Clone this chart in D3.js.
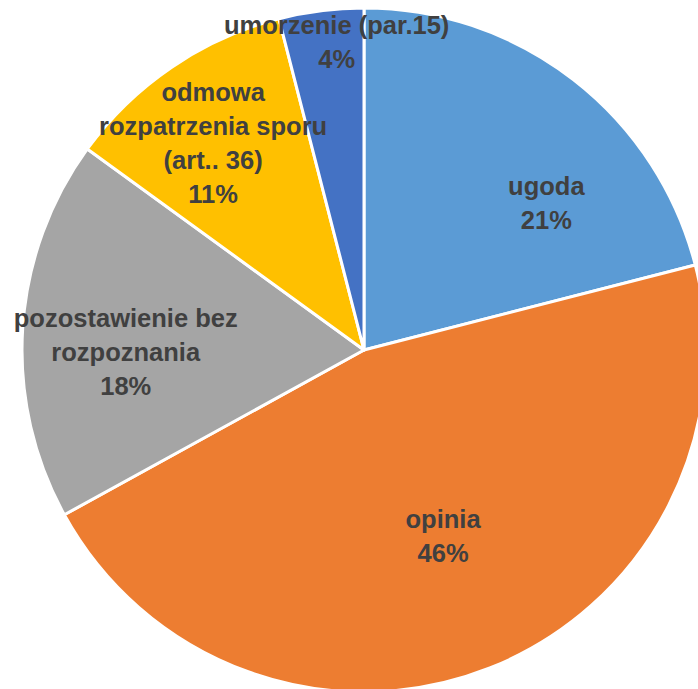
<!DOCTYPE html>
<html>
<head>
<meta charset="utf-8">
<script src="https://cdn.jsdelivr.net/npm/d3@7"></script>
<style>
  body { margin: 0; background: #fff; }
</style>
</head>
<body>
<script>
// dane wykresu
const categories = ["ugoda", "opinia", "pozostawienie bez rozpoznania", "odmowa rozpatrzenia sporu (art.. 36)", "umorzenie (par.15)"];
const values = [21, 46, 18, 11, 4];
// linie etykiet (tak jak w oryginale)
const labelLines = [
    ["ugoda"],
    ["opinia"],
    ["pozostawienie bez", "rozpoznania"],
    ["odmowa", "rozpatrzenia sporu", "(art.. 36)"],
    ["umorzenie (par.15)"]
];
const colors = ["#5B9BD5", "#ED7D31", "#A5A5A5", "#FFC000", "#4472C4"];

const width = 698, height = 689;
const cx = 364, cy = 350, radius = 342;
const fontSize = 25.5, lineHeight = 34;

// przesuniecia etykiet wzgledem centroidu (jak "best fit" w Excelu)
const labelShift = [[44, 31], [-4, -24], [-13, 16], [-24, -20], [1, -84]];

const data = categories.map((c, i) => ({ name: c, value: values[i], i: i }));

const svg = d3.select("body").append("svg")
    .attr("width", width)
    .attr("height", height);

const g = svg.append("g").attr("transform", "translate(" + cx + "," + cy + ")");

const pie = d3.pie().value(d => d.value).sort(null);
const arc = d3.arc().innerRadius(0).outerRadius(radius);
const labelArc = d3.arc().innerRadius(radius * 0.66).outerRadius(radius * 0.66);

const arcs = pie(data);

g.selectAll("path.slice")
    .data(arcs)
    .enter().append("path")
    .attr("class", "slice")
    .attr("d", arc)
    .attr("fill", d => colors[d.data.i])
    .attr("stroke", "#fff")
    .attr("stroke-width", 3)
    .attr("stroke-linejoin", "round");

// etykiety
arcs.forEach(d => {
    const c = labelArc.centroid(d);
    const x = c[0] + labelShift[d.data.i][0];
    const y = c[1] + labelShift[d.data.i][1];
    const lines = labelLines[d.data.i].concat([d.data.value + "%"]);
    const y0 = y - (lines.length - 1) * lineHeight / 2 + 0.35 * fontSize;
    const t = g.append("text")
        .attr("text-anchor", "middle")
        .style("font-family", "'Liberation Sans', Arial, sans-serif")
        .style("font-weight", "bold")
        .style("font-size", fontSize + "px")
        .style("fill", "#404040");
    lines.forEach((l, k) => {
        t.append("tspan")
            .attr("x", x)
            .attr("y", y0 + k * lineHeight)
            .text(l);
    });
});
</script>
</body>
</html>
